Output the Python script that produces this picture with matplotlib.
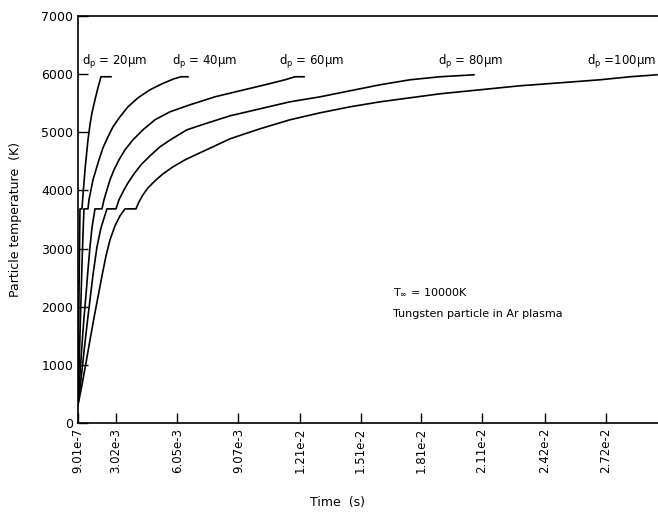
import matplotlib.pyplot as plt

# particle temperature histories (time in s, temperature in K)
t_20 = [1.143e-3, 1.158e-3, 1.173e-3, 1.192e-3, 1.212e-3, 1.232e-3, 1.242e-3, 1.341e-3, 1.390e-3, 1.439e-3,
        1.489e-3, 1.563e-3, 1.637e-3, 1.736e-3, 1.834e-3, 1.983e-3, 2.131e-3, 2.279e-3, 2.773e-3]
T_20 = [310, 740, 1428, 2117, 2805, 3408, 3683, 3683, 3924, 4130,
        4354, 4612, 4870, 5129, 5335, 5559, 5765, 5955, 5955]

t_40 = [1.143e-3, 1.192e-3, 1.242e-3, 1.291e-3, 1.341e-3, 1.390e-3, 1.439e-3, 1.637e-3, 1.686e-3, 1.785e-3,
        1.884e-3, 2.032e-3, 2.180e-3, 2.378e-3, 2.625e-3, 2.872e-3, 3.217e-3, 3.612e-3, 4.106e-3, 4.699e-3,
        5.292e-3, 5.884e-3, 6.230e-3, 6.576e-3]
T_40 = [310, 912, 1514, 2117, 2719, 3235, 3683, 3683, 3838, 4010,
        4182, 4354, 4526, 4733, 4922, 5094, 5266, 5438, 5593, 5731,
        5834, 5920, 5955, 5955]

t_60 = [1.143e-3, 1.242e-3, 1.341e-3, 1.439e-3, 1.538e-3, 1.637e-3, 1.736e-3, 1.834e-3, 1.983e-3, 2.328e-3,
        2.427e-3, 2.575e-3, 2.723e-3, 2.921e-3, 3.168e-3, 3.464e-3, 3.859e-3, 4.353e-3, 4.946e-3, 5.687e-3,
        6.675e-3, 7.909e-3, 9.144e-3, 10.38e-3, 11.37e-3, 11.86e-3, 12.31e-3]
T_60 = [310, 826, 1342, 1807, 2203, 2633, 3029, 3356, 3683, 3683,
        3838, 4010, 4182, 4354, 4526, 4698, 4870, 5043, 5215, 5352,
        5473, 5610, 5714, 5817, 5903, 5955, 5955]

t_80 = [1.143e-3, 1.291e-3, 1.439e-3, 1.588e-3, 1.736e-3, 1.884e-3, 2.081e-3, 2.279e-3, 2.575e-3, 3.020e-3,
        3.168e-3, 3.365e-3, 3.612e-3, 3.909e-3, 4.254e-3, 4.699e-3, 5.193e-3, 5.786e-3, 6.526e-3, 7.415e-3,
        8.650e-3, 10.13e-3, 11.61e-3, 13.10e-3, 14.58e-3, 16.06e-3, 17.54e-3, 19.02e-3, 20.70e-3]
T_80 = [310, 740, 1222, 1687, 2117, 2547, 3029, 3356, 3683, 3683,
        3838, 3976, 4130, 4285, 4440, 4595, 4750, 4888, 5043, 5146,
        5283, 5404, 5524, 5610, 5714, 5817, 5903, 5955, 5989]

t_100 = [1.143e-3, 1.341e-3, 1.538e-3, 1.736e-3, 1.933e-3, 2.131e-3, 2.328e-3, 2.526e-3, 2.723e-3, 2.970e-3,
         3.217e-3, 3.464e-3, 4.008e-3, 4.156e-3, 4.353e-3, 4.600e-3, 4.946e-3, 5.341e-3, 5.835e-3, 6.428e-3,
         7.168e-3, 7.909e-3, 8.650e-3, 10.13e-3, 11.61e-3, 13.10e-3, 14.58e-3, 16.06e-3, 17.54e-3, 19.02e-3,
         21.00e-3, 22.97e-3, 24.95e-3, 26.92e-3, 28.41e-3, 29.74e-3]
T_100 = [310, 654, 1033, 1428, 1807, 2168, 2530, 2874, 3149, 3390,
         3562, 3683, 3683, 3803, 3924, 4044, 4165, 4285, 4406, 4526,
         4647, 4767, 4888, 5060, 5215, 5335, 5438, 5524, 5593, 5662,
         5731, 5800, 5851, 5903, 5955, 5989]

curve_labels = ['d$_\\mathregular{p}$ = 20µm', 'd$_\\mathregular{p}$ = 40µm', 'd$_\\mathregular{p}$ = 60µm',
                'd$_\\mathregular{p}$ = 80µm', 'd$_\\mathregular{p}$ =100µm']
label_t = [1.341e-3, 5.786e-3, 11.07e-3, 18.92e-3, 26.30e-3]
label_T = [6050, 6050, 6050, 6050, 6050]

x_ticks = [1.143e-3, 3.02e-3, 6.05e-3, 9.07e-3, 1.21e-2, 1.51e-2, 1.81e-2, 2.11e-2, 2.42e-2, 2.72e-2]
x_tick_labels = ['9.01e-7', '3.02e-3', '6.05e-3', '9.07e-3', '1.21e-2', '1.51e-2',
                 '1.81e-2', '2.11e-2', '2.42e-2', '2.72e-2']
y_ticks = [0, 1000, 2000, 3000, 4000, 5000, 6000, 7000]

fig = plt.figure(figsize=(6.58, 5.13), dpi=100)
ax = fig.add_axes([0.1185, 0.1754, 0.8815, 0.7934])

for t, T in [(t_20, T_20), (t_40, T_40), (t_60, T_60), (t_80, T_80), (t_100, T_100)]:
    ax.plot(t, T, color='black', lw=1.2, solid_joinstyle='round')

for lab, x, y in zip(curve_labels, label_t, label_T):
    ax.text(x, y, lab, fontsize=8.5, ha='left', va='bottom')

ax.text(16.70e-3, 2254, r'T$_\infty$ = 10000K', fontsize=8, va='center')
ax.text(16.70e-3, 1870, 'Tungsten particle in Ar plasma', fontsize=8, va='center')

ax.set_xlim(1.143e-3, 2.979e-2)
ax.set_ylim(0, 7000)
ax.set_xticks(x_ticks)
ax.set_xticklabels(x_tick_labels, rotation=90, fontsize=8.5)
ax.set_yticks(y_ticks)
ax.set_yticklabels([str(v) for v in y_ticks], fontsize=9)
ax.tick_params(direction='in', length=7, width=1)
ax.spines['right'].set_visible(False)
for s in ['left', 'bottom', 'top']:
    ax.spines[s].set_linewidth(1.2)

ax.set_xlabel('Time  (s)', fontsize=9)
ax.xaxis.set_label_coords(0.448, -0.18)
ax.set_ylabel('Particle temperature  (K)', fontsize=9, labelpad=14)

fig.savefig('out.png', dpi=100)
